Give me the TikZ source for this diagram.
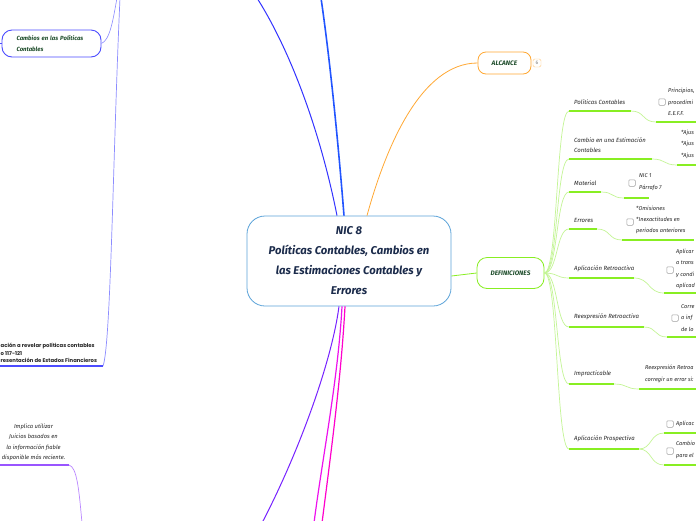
\documentclass[tikz,border=0pt]{standalone}
\usepackage{fontspec}
\setmainfont{Fira Sans}
\setsansfont{Fira Sans}
\newfontfamily\poppfont{Poppins}
\definecolor{cblue}{HTML}{5BA3D9}
\definecolor{cnavy}{HTML}{1B2B4B}
\definecolor{dgreen}{HTML}{1E4D2B}
\definecolor{orng}{HTML}{FFA833}
\definecolor{bblue}{HTML}{2255FF}
\definecolor{dblue}{HTML}{3333FF}
\definecolor{lblue}{HTML}{8C8CFF}
\definecolor{nblue}{HTML}{4C4CFF}
\definecolor{purp}{HTML}{7722FF}
\definecolor{lpurp}{HTML}{BB88FF}
\definecolor{mpurp}{HTML}{9955FF}
\definecolor{mag1}{HTML}{EE11EE}
\definecolor{mag2}{HTML}{FF00CC}
\definecolor{gline}{HTML}{88EE22}
\definecolor{gcurve}{HTML}{C4F596}
\tikzset{
  lbl/.style={font=\fontsize{6}{10}\selectfont\itshape, text=black!85, inner sep=0pt, anchor=west, align=left},
  sub/.style={font=\fontsize{5.6}{11.3}\selectfont\itshape, text=black!85, inner sep=0pt, anchor=west, align=left},
  uline/.style={draw=gline, line width=1.4pt},
  gcv/.style={draw=gcurve, line width=0.7pt},
  chk/.style={draw=gray!75, rounded corners=1pt, minimum size=6.5pt, inner sep=0pt, line width=0.5pt},
  topic/.style={draw, line width=0.8pt, inner sep=0pt, text=dgreen, font=\fontsize{6.5}{8}\selectfont\bfseries\itshape}
}
\begin{document}
\begin{tikzpicture}[x=1pt,y=-1pt]
\useasboundingbox (0,0) rectangle (696,520);
\fill[white] (0,0) rectangle (696,520);

% central node
\node[draw=cblue, line width=0.8pt, rounded corners=18pt, minimum width=204pt, minimum height=90pt,
      fill=white, align=center, text=cnavy, inner sep=0pt,
      font=\fontsize{11.3}{20}\selectfont\bfseries\itshape] (c) at (349,261)
  {NIC 8\\Políticas Contables, Cambios en\\las Estimaciones Contables y\\Errores};

% ALCANCE
\node[topic, draw=orng, rounded corners=8pt, minimum width=53pt, minimum height=22pt] (alc) at (504.5,63) {ALCANCE};
\node[draw=orng!60, rounded corners=1.5pt, minimum size=8pt, inner sep=0pt, text=gray,
      font=\fontsize{5}{5}\selectfont] (b6) at (537,63) {6};

% DEFINICIONES
\node[topic, draw=gline, rounded corners=10pt, minimum width=67pt, minimum height=31pt] (def) at (510.5,273) {DEFINICIONES};

% off-picture ends
\coordinate (t1) at (257,-2);
\coordinate (t2) at (321,-2);
\coordinate (t3) at (117,-2);
\coordinate (t4) at (120,-2);
\coordinate (bt1) at (262,523);
\coordinate (bt2) at (314,523);
\coordinate (bt3) at (322,523);
\coordinate (bt4) at (82,523);
\coordinate (u9b) at (103,366);
\coordinate (u9a) at (0,366);
\coordinate (u10a) at (0,465);
\coordinate (u10b) at (69,465);

% left: Cambios en las Politicas Contables
\node[draw=nblue, line width=0.9pt, rounded corners=10pt, minimum width=99pt, minimum height=27pt,
      text width=70pt, align=left, inner sep=0pt, text=dgreen,
      font=\fontsize{6}{11}\selectfont\bfseries\itshape] (cam) at (51.5,43.5)
  {Cambios en las Políticas\\Contables};
\coordinate (camL) at (0,43.5);
\draw[nblue, line width=0.8pt] (cam.west) -- (camL);

\begin{scope}
\clip (0,0) rectangle (696,520);
% connectors from center
\draw[dblue, line width=1pt] ([xshift=-12pt]c.north) .. controls (320,130) and (290,50) .. (t1);
\draw[bblue, line width=1.6pt] ([xshift=-5pt]c.north) .. controls (338,140) and (330,60) .. (t2);
\draw[orng, line width=0.8pt] ([xshift=18pt]c.north) .. controls (385,150) and (420,63) .. (alc.west);
\draw[gline, line width=0.8pt] ([yshift=-15pt]c.east) -- (def.west);
\draw[purp, line width=1pt] ([xshift=-10pt]c.south) .. controls (332,360) and (300,450) .. (bt1);
\draw[mag1, line width=1.2pt] ([xshift=-7pt]c.south) .. controls (338,380) and (322,460) .. (bt2);
\draw[mag2, line width=1.2pt] ([xshift=-4pt]c.south) .. controls (341,380) and (330,460) .. (bt3);
% left connectors
\draw[lblue, line width=0.6pt] (cam.east) .. controls (110,40) and (113,20) .. (t3);
\draw[lblue, line width=0.7pt] (t4) .. controls (113,150) and (111,345) .. (u9b);
\draw[lpurp, line width=0.7pt] (u10b) .. controls (77,467) and (79,490) .. (bt4);
\end{scope}

% left: NIC 1 branch
\draw[nblue, line width=1.3pt] (u9b) -- (u9a);
\node[inner sep=0pt, anchor=south west, align=left, text=black!85,
      font=\poppfont\fontsize{5.3}{7.6}\selectfont\bfseries] (nic1) at (0.5,363)
  {ación a revelar políticas contables\\o 117-121\\resentación de Estados Financieros};

% lower left: Implica utilizar
\node[inner sep=0pt, anchor=south, align=center, text=black!85,
      font=\fontsize{5.8}{10.3}\selectfont\itshape] (impl) at (33.5,461)
  {Implica utilizar\\Juicios basados en\\la información fiable\\disponible más reciente.};
\draw[mpurp, line width=1.3pt] (u10a) -- (u10b);

% ---------- DEFINICIONES branches ----------
\coordinate (a1) at (569,111); \coordinate (b1) at (631,111);
\coordinate (c1) at (656,122); \coordinate (d1) at (696,122);
\coordinate (a2) at (569,159); \coordinate (b2) at (652,159);
\coordinate (c2) at (677,165); \coordinate (d2) at (696,165);
\coordinate (a3) at (569,192); \coordinate (b3) at (601,192);
\coordinate (c3) at (624,198); \coordinate (d3) at (649,198);
\coordinate (a4) at (569,229); \coordinate (b4) at (597,229);
\coordinate (c4) at (622,240); \coordinate (d4) at (694,240);
\coordinate (a5) at (569,278); \coordinate (b5) at (634,278);
\coordinate (c5) at (664,293); \coordinate (d5) at (696,293);
\coordinate (a6) at (569,327); \coordinate (b6x) at (644,327);
\coordinate (c6) at (667,337); \coordinate (d6) at (696,337);
\coordinate (a7) at (569,384); \coordinate (b7) at (614,384);
\coordinate (c7) at (639,389); \coordinate (d7) at (696,389);
\coordinate (a8) at (569,449); \coordinate (b8) at (639,449);
\coordinate (c8) at (664,433); \coordinate (d8) at (696,433);
\coordinate (e8) at (664,465); \coordinate (f8) at (696,465);

\foreach \p/\y in {a1/111,a2/159,a3/192,a4/229,a5/278,a6/327,a7/384,a8/449}
  \draw[gcv] (def.east) .. controls (558,273) and (556,\y) .. (\p);

\draw[gcv] (b1) .. controls (645,111) and (642,122) .. (c1);
\draw[gcv] (b2) .. controls (666,159) and (663,165) .. (c2);
\draw[gcv] (b3) .. controls (614,192) and (611,198) .. (c3);
\draw[gcv] (b4) .. controls (611,229) and (608,240) .. (c4);
\draw[gcv] (b5) .. controls (650,278) and (648,293) .. (c5);
\draw[gcv] (b6x) .. controls (657,327) and (654,337) .. (c6);
\draw[gcv] (b7) .. controls (628,384) and (625,389) .. (c7);
\draw[gcv] (b8) .. controls (652,449) and (650,433) .. (c8);
\draw[gcv] (b8) .. controls (652,449) and (650,465) .. (e8);

\foreach \s/\e in {a1/b1,c1/d1,a2/b2,c2/d2,a3/b3,c3/d3,a4/b4,c4/d4,a5/b5,c5/d5,a6/b6x,c6/d6,a7/b7,c7/d7,a8/b8,c8/d8,e8/f8}
  \draw[uline, line cap=butt] (\s) -- (\e);

% labels
\node[lbl] (l1) at (574,102) {Políticas Contables};
\node[lbl] (l2) at (574,145) {Cambio en una Estimación\\Contables};
\node[lbl] (l3) at (574,183) {Material};
\node[lbl] (l4) at (574,220) {Errores};
\node[lbl] (l5) at (574,269) {Aplicación Retroactiva};
\node[lbl] (l6) at (574,317) {Reexpresión Retroactiva};
\node[lbl] (l7) at (574,374) {Impracticable};
\node[lbl] (l8) at (574,439) {Aplicación Prospectiva};

% children (cut at the right edge as in the picture)
\node[chk] (k1) at (662,102) {};
\node[sub] (s1) at (668,102) {Principios,\\procedimi\\E.E.F.F.};
\node[sub, font=\fontsize{5.6}{11.5}\selectfont\itshape] (s2) at (681,144) {*Ajus\\*Ajus\\*Ajus};
\node[chk] (k3) at (632,183) {};
\node[sub, font=\fontsize{5.6}{12}\selectfont\itshape] (s3) at (639,182) {NIC 1\\Párrafo 7};
\node[chk] (k4) at (630,222) {};
\node[sub] (s4) at (636,220) {*Omisiones\\*Inexactitudes en\\periodos anteriores};
\node[chk] (k5) at (670,270) {};
\node[sub] (s5) at (676,269) {Aplicar\\a trans\\y condi\\aplicad};
\node[chk] (k6) at (675,318) {};
\node[sub] (s6) at (681,318) {Corre\\a inf\\de lo};
\node[sub] (s7) at (645,374) {Reexpresión Retroa\\corregir un error si:};
\node[chk] (k8a) at (670,424) {};
\node[sub] (s8a) at (676,424) {Aplicac};
\node[chk] (k8b) at (670,451) {};
\node[sub] (s8b) at (676,450) {Cambio\\para el};
\end{tikzpicture}
\end{document}
